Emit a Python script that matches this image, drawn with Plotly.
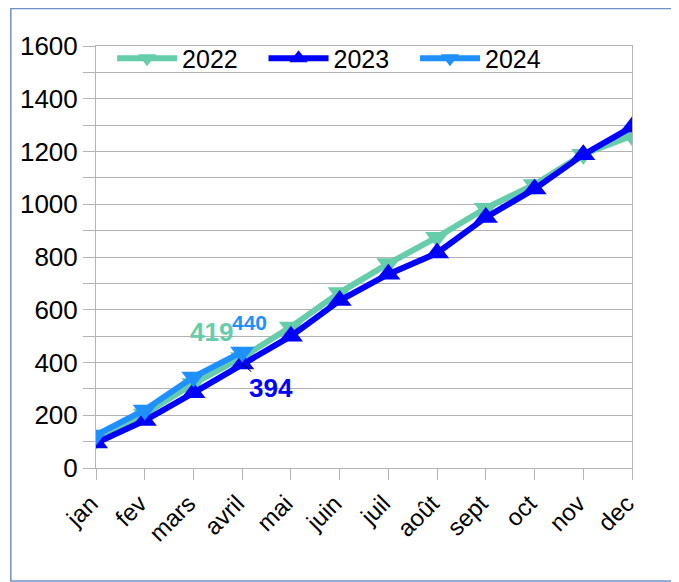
import plotly.graph_objects as go

months = ["jan", "fev", "mars", "avril", "mai", "juin", "juil", "août", "sept", "oct", "nov", "dec"]
v2022 = [110, 205, 320, 419, 535, 665, 775, 875, 985, 1075, 1190, 1260]
v2023 = [95, 180, 285, 394, 500, 635, 735, 815, 950, 1058, 1188, 1293]
v2024 = [125, 220, 345, 440]

c2022 = "#66CDAA"
c2023 = "#0000FF"
c2024 = "#1E90FF"
FONT = "Liberation Sans, Arial, sans-serif"
PAD = "\u00a0\u00a0\u00a0"
LBL = 3  # index of the labelled month (avril)

fig = go.Figure()
fig.add_trace(go.Scatter(
    x=months, y=v2022, name="2022" + PAD, mode="lines+markers",
    line=dict(color=c2022, width=6),
    marker=dict(symbol="triangle-down", size=21, color=c2022),
))
fig.add_trace(go.Scatter(
    x=months, y=v2023, name="2023" + PAD, mode="lines+markers",
    line=dict(color=c2023, width=6),
    marker=dict(symbol="triangle-up", size=21, color=c2023),
))
fig.add_trace(go.Scatter(
    x=months[:len(v2024)], y=v2024, name="2024", mode="lines+markers",
    line=dict(color=c2024, width=6),
    marker=dict(symbol="triangle-down", size=21, color=c2024),
))

annotations = [
    dict(x=months[LBL], y=v2022[LBL], text=str(v2022[LBL]), showarrow=False,
         xshift=-31, yshift=25,
         font=dict(color=c2022, size=26, family=FONT, weight="bold")),
    dict(x=months[LBL], y=v2024[LBL], text=str(v2024[LBL]), showarrow=False,
         xshift=7, yshift=29,
         font=dict(color=c2024, size=21, family=FONT, weight="bold")),
    dict(x=months[LBL], y=v2023[LBL], text=str(v2023[LBL]), showarrow=True,
         ax=29, ay=24, arrowhead=0, arrowwidth=1, arrowcolor="black",
         font=dict(color=c2023, size=26, family=FONT, weight="bold")),
]

fig.update_layout(
    width=671, height=574,
    margin=dict(l=86, r=47, t=38, b=114),
    paper_bgcolor="white", plot_bgcolor="white",
    font=dict(family=FONT, size=26, color="black"),
    showlegend=True,
    legend=dict(orientation="h", x=0.03, y=1.025, xanchor="left", yanchor="top",
                bgcolor="rgba(0,0,0,0)", font=dict(size=25), itemwidth=60,
                tracegroupgap=0),
    xaxis=dict(type="category", range=[0, 11], showgrid=False,
               showline=True, linecolor="#b3b3b3", linewidth=1, mirror=True,
               ticks="outside", ticklen=11, tickcolor="#b3b3b3",
               tickangle=-45, tickfont=dict(size=24), ticklabelshift=-5),
    yaxis=dict(range=[0, 1600], showgrid=True, gridcolor="#b3b3b3",
               gridwidth=1, showline=True, linecolor="#b3b3b3", linewidth=1,
               mirror=True, ticks="outside", ticklen=12, tickcolor="#b3b3b3",
               tickvals=list(range(0, 1601, 100)),
               ticktext=[str(v) if v % 200 == 0 else "" for v in range(0, 1601, 100)],
               tickfont=dict(size=26), zeroline=False),
    annotations=annotations,
    shapes=[dict(type="rect", xref="paper", yref="paper",
                 x0=-0.1589, x1=1.0855, y0=-0.2678, y1=1.0889,
                 line=dict(color="#7090c8", width=1.5), layer="below")],
)

fig.write_html("out.html")
